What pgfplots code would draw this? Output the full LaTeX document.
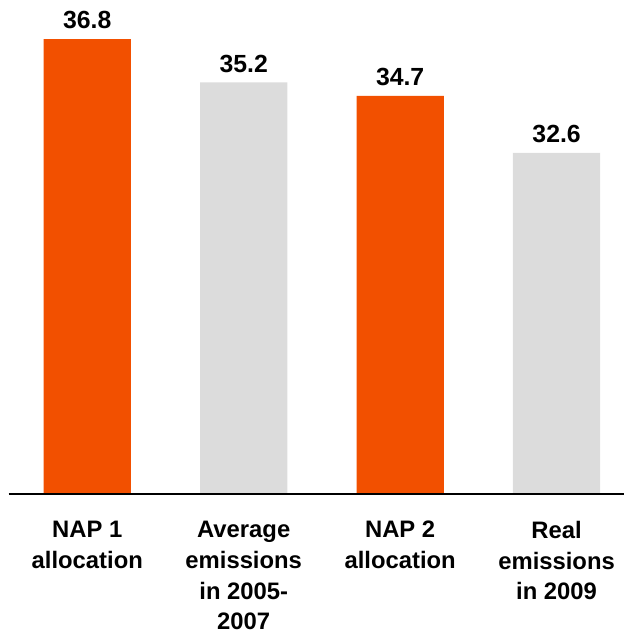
\documentclass[border=0pt]{standalone}
\usepackage{pgfplots}
\pgfplotsset{compat=1.18}
\usepackage{fontspec}
\setmainfont{Liberation Sans}
\definecolor{naporange}{RGB}{242,80,0}
\definecolor{napgray}{RGB}{220,220,220}
\begin{document}
\begin{tikzpicture}
\begin{axis}[
  scale only axis, width=629pt, height=498pt,
  xmin=-0.558, xmax=3.431, ymin=20, ymax=38.24,
  axis line style={draw=none},
  ytick=\empty,
  xtick={0,1,2,3},
  major tick length=0pt,
  ybar, bar width=88pt, bar shift=0pt,
  nodes near coords={\pgfmathprintnumber[fixed,fixed zerofill,precision=1,assume math mode=true]{\pgfplotspointmeta}},
  nodes near coords style={font=\fontsize{25}{30}\selectfont\bfseries, anchor=south, inner sep=0pt, yshift=10pt, text=black},
  xticklabel style={font=\fontsize{24}{31}\selectfont\bfseries, align=center, anchor=north, inner sep=0pt, yshift=-27pt},
  xticklabels={{NAP 1\\allocation},{Average\\emissions\\in 2005-\\2007},{NAP 2\\allocation},{Real\\emissions\\in 2009}},
  enlargelimits=false, clip=false,
]
\addplot[fill=naporange, draw=none] coordinates {(0,36.8) (2,34.7)};
\addplot[fill=napgray, draw=none] coordinates {(1,35.2) (3,32.6)};
\draw[line width=2pt, black] (axis cs:-0.503,20) -- (axis cs:3.431,20);
\end{axis}
\path ([yshift=-145pt]current axis.south west);
\end{tikzpicture}
\end{document}
